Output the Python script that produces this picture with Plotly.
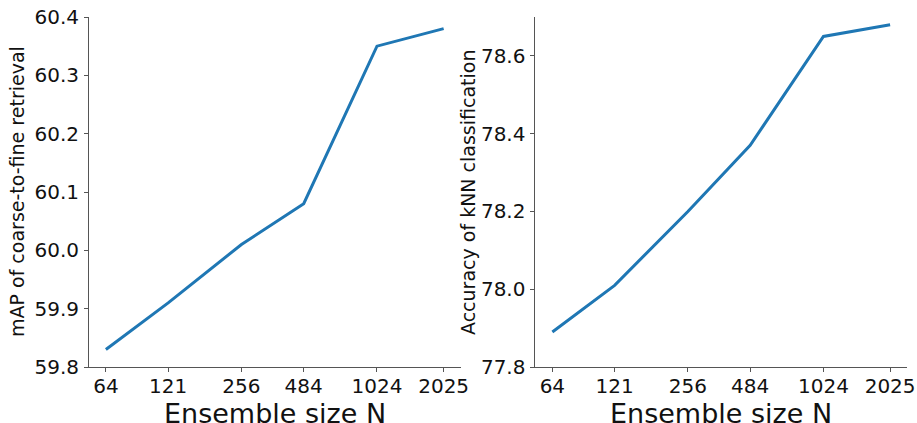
import numpy as np
import plotly.graph_objects as go
from plotly.subplots import make_subplots

# Ensemble sizes and the two evaluation metrics
ensemble_sizes = [64, 121, 256, 484, 1024, 2025]
tick_labels = ["64", "121", "256", "484", "1024", "2025"]
map_retrieval = [59.83, 59.91, 60.01, 60.08, 60.35, 60.38]
knn_accuracy = [77.89, 78.01, 78.20, 78.37, 78.65, 78.68]

LINE_COLOR = "#1f77b4"
TEXT_COLOR = "#111111"
FONT = "DejaVu Sans"

W, H = 917, 423
M_L, M_R, M_T, M_B = 89, 10, 17, 56
PLOT_W, PLOT_H = W - M_L - M_R, H - M_T - M_B


def px_to_paper_x(px):
    return (px - M_L) / PLOT_W


def px_to_paper_y(py):
    return (H - M_B - py) / PLOT_H


fig = make_subplots(rows=1, cols=2, horizontal_spacing=0.0916)

fig.add_trace(go.Scatter(x=ensemble_sizes, y=map_retrieval, mode="lines",
                         line=dict(color=LINE_COLOR, width=3)), row=1, col=1)
fig.add_trace(go.Scatter(x=ensemble_sizes, y=knn_accuracy, mode="lines",
                         line=dict(color=LINE_COLOR, width=3)), row=1, col=2)

# log-scaled x range with 5% padding on each side
lo, hi = np.log10(ensemble_sizes[0]), np.log10(ensemble_sizes[-1])
pad = 0.05 * (hi - lo)
x_range = [lo - pad, hi + pad]

axis_common = dict(showline=True, linecolor="#555555", linewidth=1,
                   ticks="outside", ticklen=4, tickcolor="#555555",
                   showgrid=False, zeroline=False, automargin=False,
                   tickfont=dict(family=FONT, size=20, color=TEXT_COLOR))

for col in (1, 2):
    fig.update_xaxes(type="log", range=x_range, tickvals=ensemble_sizes,
                     ticktext=tick_labels, ticklabelstandoff=-3,
                     **axis_common, row=1, col=col)

fig.update_yaxes(range=[59.8, 60.4], tickvals=[59.8, 59.9, 60.0, 60.1, 60.2, 60.3, 60.4],
                 tickformat=".1f", ticklabelstandoff=1,
                 **axis_common, row=1, col=1)
fig.update_yaxes(range=[77.8, 78.7], tickvals=[77.8, 78.0, 78.2, 78.4, 78.6],
                 tickformat=".1f", ticklabelstandoff=1,
                 **axis_common, row=1, col=2)

# axis titles
x_title_font = dict(family=FONT, size=27, color=TEXT_COLOR)
y_title_font = dict(family=FONT, size=19, color=TEXT_COLOR)
for dom in (fig.layout.xaxis.domain, fig.layout.xaxis2.domain):
    fig.add_annotation(text="Ensemble size N", xref="paper", yref="paper",
                       x=(dom[0] + dom[1]) / 2, y=px_to_paper_y(396),
                       xanchor="center", yanchor="top", showarrow=False,
                       font=x_title_font)

fig.add_annotation(text="mAP of coarse-to-fine retrieval", xref="paper", yref="paper",
                   x=px_to_paper_x(17), y=0.5, textangle=-90,
                   xanchor="center", yanchor="middle", showarrow=False,
                   font=y_title_font)
fig.add_annotation(text="Accuracy of kNN classification", xref="paper", yref="paper",
                   x=px_to_paper_x(468), y=0.5, textangle=-90,
                   xanchor="center", yanchor="middle", showarrow=False,
                   font=y_title_font)

fig.update_layout(width=W, height=H, showlegend=False,
                  paper_bgcolor="white", plot_bgcolor="white",
                  margin=dict(l=M_L, r=M_R, t=M_T, b=M_B),
                  font=dict(family=FONT))

fig.write_html("out.html")
